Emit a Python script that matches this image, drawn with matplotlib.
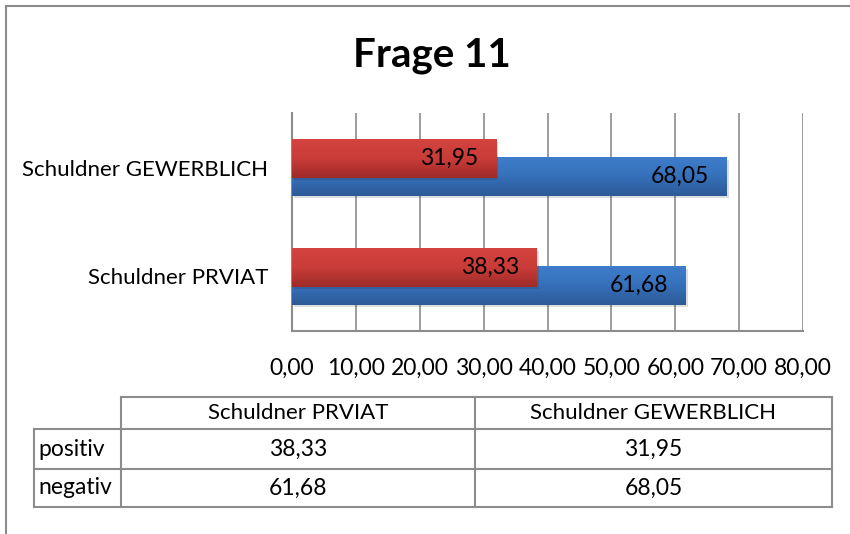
import matplotlib
matplotlib.use("Agg")
import matplotlib.pyplot as plt
import numpy as np
from matplotlib.lines import Line2D
from matplotlib.patches import Rectangle
from matplotlib.colors import LinearSegmentedColormap
import matplotlib.patheffects as pe

# ---- data ----
title = "Frage 11"
categories = ["Schuldner PRVIAT", "Schuldner GEWERBLICH"]
series_names = ["positiv", "negativ"]
positiv = [38.33, 31.95]
negativ = [61.68, 68.05]
x_ticks = [0, 10, 20, 30, 40, 50, 60, 70, 80]

plt.rcParams['font.family'] = ['Lato', 'DejaVu Sans']

W, H = 850, 534
fig = plt.figure(figsize=(W / 100, H / 100), dpi=100)
fig.patch.set_facecolor("white")


def fx(x):
    return x / W


def fy(y):
    return 1 - y / H


# outer chart border
fig.add_artist(Rectangle((fx(6), fy(560)), fx(900) - fx(6), fy(6) - fy(560),
                         transform=fig.transFigure, fill=False,
                         edgecolor="#8c8c8c", lw=1.5))

# title
fig.text(fx(432), fy(55), title, ha="center", va="center",
         fontsize=29, fontweight="bold", color="black")

# axes
ax = fig.add_axes([fx(292), fy(331), fx(803) - fx(292), fy(113) - fy(331)])
ax.set_xlim(x_ticks[0], x_ticks[-1])
ax.set_ylim(-0.5, len(categories) - 0.5)

ypos = np.arange(len(categories))
h = 0.35
off = 0.083

grad = np.linspace(0, 1, 64).reshape(-1, 1)
red_cmap = LinearSegmentedColormap.from_list("r", ["#9e2b28", "#c93c38", "#d4433f"])
blue_cmap = LinearSegmentedColormap.from_list("b", ["#2c5a96", "#3670ba", "#3e7dcb"])

shadow = [pe.SimplePatchShadow(offset=(1.5, -2), alpha=0.15), pe.Normal()]

bars_neg = ax.barh(ypos - off, negativ, height=h, color="#3670ba", zorder=3,
                   path_effects=shadow)
bars_pos = ax.barh(ypos + off, positiv, height=h, color="#c93c38", zorder=4,
                   path_effects=shadow)

for bars, cmap, z in ((bars_neg, blue_cmap, 3.5), (bars_pos, red_cmap, 4.5)):
    for p in bars:
        x0, y0 = p.get_x(), p.get_y()
        im = ax.imshow(grad, extent=[x0, x0 + p.get_width(), y0, y0 + p.get_height()],
                       origin="lower", cmap=cmap, aspect="auto", zorder=z,
                       interpolation="bilinear")
        im.set_clip_path(p)

ax.set_xlim(x_ticks[0], x_ticks[-1])
ax.set_ylim(-0.5, len(categories) - 0.5)
ax.set_aspect("auto")


def fmt(v):
    return f"{v:.2f}".replace(".", ",")


for bars, vals in ((bars_pos, positiv), (bars_neg, negativ)):
    for p, v in zip(bars, vals):
        ax.annotate(fmt(v), xy=(v, p.get_y() + p.get_height() / 2),
                    xytext=(-13, 0), textcoords="offset points",
                    ha="right", va="center", fontsize=16.5, color="black",
                    zorder=6)

ax.set_xticks(x_ticks)
ax.set_xticklabels([fmt(t) for t in x_ticks], fontsize=16.5)
ax.set_yticks(ypos)
ax.set_yticklabels(categories, fontsize=16)
ax.tick_params(axis="x", length=0, pad=19)
ax.tick_params(axis="y", length=0, pad=17)

ax.grid(axis="x", color="#8c8c8c", lw=1.2, zorder=1)
ax.set_axisbelow(True)
for s in ("top", "right"):
    ax.spines[s].set_visible(False)
for s in ("left", "bottom"):
    ax.spines[s].set_color("#8c8c8c")
    ax.spines[s].set_linewidth(1.5)

# ---- data table ----
lc = "#8c8c8c"
lw = 1.5
y_top, y_h, y_r1, y_bot = 397, 429, 469, 507
x_lab, x_c1, x_c2, x_r = 34, 121, 475, 832


def hline(y, x0, x1):
    fig.add_artist(Line2D([fx(x0), fx(x1)], [fy(y), fy(y)], color=lc, lw=lw,
                          transform=fig.transFigure))


def vline(x, y0, y1):
    fig.add_artist(Line2D([fx(x), fx(x)], [fy(y0), fy(y1)], color=lc, lw=lw,
                          transform=fig.transFigure))


hline(y_top, x_c1, x_r)
hline(y_h, x_lab, x_r)
hline(y_r1, x_lab, x_r)
hline(y_bot, x_lab, x_r)
vline(x_lab, y_h, y_bot)
vline(x_c1, y_top, y_bot)
vline(x_c2, y_top, y_bot)
vline(x_r, y_top, y_bot)

col_centers = [(x_c1 + x_c2) / 2, (x_c2 + x_r) / 2]
fig.text(fx(col_centers[0]), fy((y_top + y_h) / 2), categories[0],
         ha="center", va="center", fontsize=16)
fig.text(fx(col_centers[1]), fy((y_top + y_h) / 2), categories[1],
         ha="center", va="center", fontsize=16)

rows = [(series_names[0], positiv, (y_h + y_r1) / 2),
        (series_names[1], negativ, (y_r1 + y_bot) / 2)]
for name, vals, yc in rows:
    fig.text(fx(x_lab + 4), fy(yc), name, ha="left", va="center", fontsize=16.5)
    for cx, v in zip(col_centers, vals):
        fig.text(fx(cx), fy(yc), fmt(v), ha="center", va="center", fontsize=16.5)

fig.savefig("out.png", dpi=100, facecolor="white")
